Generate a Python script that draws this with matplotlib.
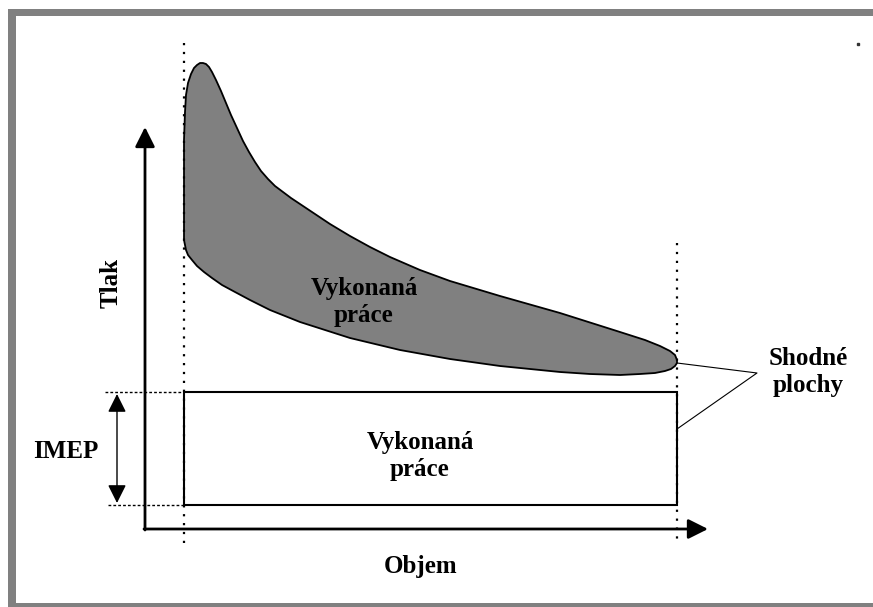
import numpy as np
import matplotlib
matplotlib.use('Agg')
import matplotlib.pyplot as plt
from matplotlib.patches import Rectangle, Polygon

# diagram geometry, in picture pixels (x right, y down)
loop_upper_x = [184, 184, 184, 185, 186, 188, 191, 194, 197, 200, 203, 206, 209, 212, 216, 221,
                226, 231, 237, 243, 249, 255, 261, 268, 275, 283, 291, 300, 315, 330, 350, 370,
                390, 420, 450, 500, 560, 620, 645, 660, 670, 675, 677]
loop_upper_y = [240, 180, 140, 112, 95, 83, 74, 68, 65, 63, 63, 64, 67, 72, 80, 91,
                103, 115, 128, 141, 152, 162, 171, 179, 186, 192, 198, 204, 214, 224, 236, 247,
                257, 270, 281, 296, 313, 332, 340, 346, 351, 355, 360]
loop_lower_x = [677, 675, 671, 665, 655, 640, 620, 590, 560, 530, 500, 450, 400, 350, 300,
                270, 250, 235, 222, 212, 204, 197, 192, 188, 186, 185, 184]
loop_lower_y = [363, 366, 369, 371, 373, 374, 375, 374, 372, 369, 366, 359, 350, 338, 322,
                310, 300, 292, 285, 278, 272, 266, 260, 255, 250, 245, 240]

v_left, v_right = 184, 677          # dotted volume limits
rect_top, rect_bottom = 392, 505    # IMEP rectangle
axis_x0, axis_y0 = 145, 529
axis_ytip, axis_xtip = 127, 708

labels = {
    'Tlak': (111, 283),
    'IMEP': (66, 451),
    'Objem': (421, 567),
    'loop': (364, 302),
    'rect': (420, 456),
    'Shodné\nplochy': (808, 372),
}
callout = [(677, 363), (757, 373), (677, 429)]

fig = plt.figure(figsize=(8.73, 6.07), dpi=100)
ax = fig.add_axes([0, 0, 1, 1])
ax.set_xlim(0, 873)
ax.set_ylim(607, 0)
ax.axis('off')

# grey frame
grey = '#808080'
ax.add_patch(Rectangle((8, 9), 865, 7, color=grey, lw=0))
ax.add_patch(Rectangle((8, 9), 8, 598, color=grey, lw=0))
ax.add_patch(Rectangle((8, 603), 865, 4, color=grey, lw=0))

# shaded loop
px = loop_upper_x + loop_lower_x
py = loop_upper_y + loop_lower_y
ax.add_patch(Polygon(np.column_stack([px, py]), closed=True, facecolor=grey,
                     edgecolor='black', lw=1.3, joinstyle='round', zorder=2))

# rectangle of equal area
ax.add_patch(Rectangle((v_left, rect_top), v_right - v_left, rect_bottom - rect_top,
                       facecolor='none', edgecolor='black', lw=1.5, zorder=2))

# dotted verticals
ax.plot([v_left, v_left], [43, 545], color='black', lw=1.6, ls=(0, (1, 3)), zorder=3)
ax.plot([v_right, v_right], [243, 542], color='black', lw=1.6, ls=(0, (1, 3)), zorder=3)

# dashed IMEP levels
ax.plot([105, v_left], [rect_top, rect_top], color='black', lw=1, ls=(0, (2, 1.5)))
ax.plot([108, v_left], [rect_bottom, rect_bottom], color='black', lw=1, ls=(0, (2, 1.5)))

# axes arrows
ax.annotate('', xy=(axis_x0, axis_ytip), xytext=(axis_x0, axis_y0 + 1),
            arrowprops=dict(arrowstyle='-|>', mutation_scale=30, lw=2, color='black',
                            shrinkA=0, shrinkB=0))
ax.annotate('', xy=(axis_xtip, axis_y0), xytext=(axis_x0 - 1, axis_y0),
            arrowprops=dict(arrowstyle='-|>', mutation_scale=30, lw=2, color='black',
                            shrinkA=0, shrinkB=0))

# IMEP double arrow
ax.annotate('', xy=(117, rect_top + 2), xytext=(117, rect_bottom - 2),
            arrowprops=dict(arrowstyle='<|-|>', mutation_scale=28, lw=1, color='black',
                            shrinkA=0, shrinkB=0))

# callout lines
cx, cy = zip(*callout)
ax.plot(cx, cy, color='black', lw=0.8)

font = dict(family='Liberation Serif', weight='bold', fontsize=18, color='black')
ax.text(*labels['Tlak'], 'Tlak', rotation=90, ha='center', va='center', **font)
ax.text(*labels['IMEP'], 'IMEP', ha='center', va='center', **font)
ax.text(*labels['Objem'], 'Objem', ha='center', va='center', **font)
ax.text(*labels['loop'], 'Vykonaná\npráce', ha='center', va='center', linespacing=1.2, **font)
ax.text(*labels['rect'], 'Vykonaná\npráce', ha='center', va='center', linespacing=1.2, **font)
ax.text(*labels['Shodné\nplochy'], 'Shodné\nplochy', ha='center', va='center',
        linespacing=1.2, **font)

# small speck at top right
ax.plot([858], [44], marker='s', ms=1.5, color='#333333')

fig.savefig('out.png', dpi=100)
